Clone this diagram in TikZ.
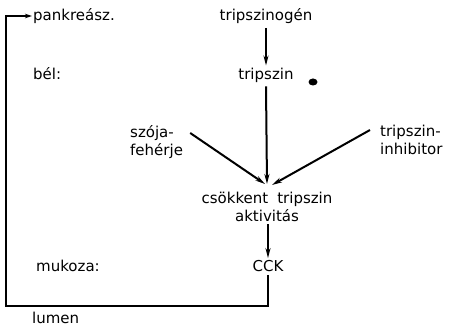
\documentclass[tikz,border=0pt]{standalone}
\usepackage{fontspec}
\setmainfont{DejaVu Sans}
\usetikzlibrary{arrows.meta,calc}
\begin{document}
\begin{tikzpicture}[x=1pt,y=-1pt,
  lbl/.style={inner sep=0pt,font=\fontsize{15}{18}\selectfont},
  conn/.style={line width=2pt},
  arr/.style={conn,-{Stealth[length=10pt,width=5pt]}}]
\useasboundingbox[fill=white] (0,0) rectangle (450,326);
\node[lbl,anchor=west] (pank) at (33,16) {pankreász.};
\node[lbl,anchor=west] (bel) at (33,74) {bél:};
\node[lbl,anchor=west] (muk) at (36,266) {mukoza:};
\node[lbl,anchor=west] (lumen) at (32,318) {lumen};
\node[lbl] (tgen) at (266,16) {tripszinogén};
\node[lbl] (trip) at (266,75) {tripszin};
\node[lbl,anchor=west,align=left] (szoja) at (130,142) {szója-\\fehérje};
\node[lbl,anchor=west,align=left] (inhib) at (380,140) {tripszin-\\inhibitor};
\node[lbl,align=center] (cs) at (267,207) {csökkent\hspace{0.6em}tripszin\\aktivitás};
\node[lbl] (cck) at (268,266) {CCK};
\coordinate (corner1) at (268,306);
\coordinate (corner2) at (6,306);
\coordinate (corner3) at (6,16);
\fill (313,82) ellipse [x radius=4.5, y radius=3.5];
\draw[arr] ($(tgen.south)+(0,4)$) -- ($(trip.north)+(0,-2)$);
\draw[arr] ($(trip.south)+(0,4)$) -- ($(cs.north)+(0,-8)$);
\draw[arr] ($(szoja.east)+(7,-9)$) -- ($(cs.north)+(-2,-8)$);
\draw[arr] ($(inhib.west)+(-10,-10)$) -- ($(cs.north)+(5,-7)$);
\draw[arr] ($(cs.south)+(1,2)$) -- ($(cck.north)+(0,-2)$);
\draw[conn,-{Stealth[length=7pt,width=4.5pt]}] ($(cck.south)+(0,3)$) -- (corner1) -- (corner2) -- (corner3) -- ($(pank.west)+(-1,0)$);
\end{tikzpicture}
\end{document}
